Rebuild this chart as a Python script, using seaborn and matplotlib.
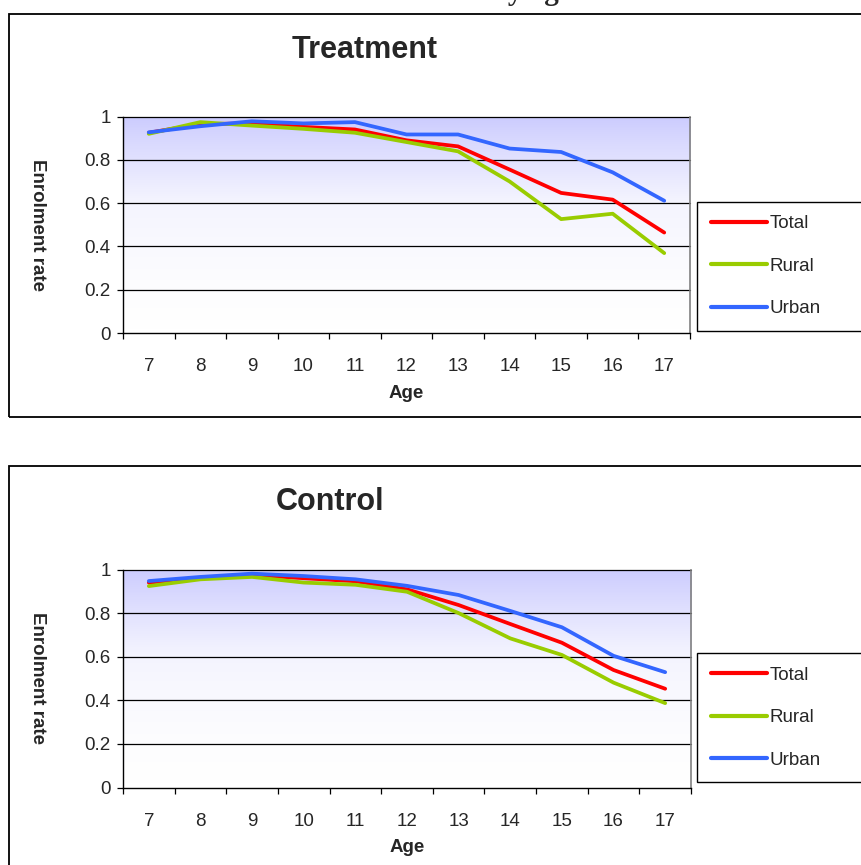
import numpy as np
import pandas as pd
import matplotlib
matplotlib.use("Agg")
import matplotlib.pyplot as plt
import seaborn as sns
from matplotlib.colors import LinearSegmentedColormap
from matplotlib.patches import Rectangle

# Figure size in pixels (saved at dpi=100)
W, H = 861, 865

# ---- data ----
ages = [7, 8, 9, 10, 11, 12, 13, 14, 15, 16, 17]
series_names = ["Total", "Rural", "Urban"]
series_colors = ["#FF0000", "#99CC00", "#3366FF"]

treat_total = [0.925, 0.965, 0.968, 0.952, 0.940, 0.890, 0.862, 0.755, 0.647, 0.616, 0.464]
treat_rural = [0.920, 0.974, 0.958, 0.943, 0.925, 0.882, 0.839, 0.700, 0.526, 0.551, 0.369]
treat_urban = [0.927, 0.955, 0.978, 0.968, 0.974, 0.917, 0.917, 0.852, 0.836, 0.742, 0.611]

ctrl_total = [0.940, 0.960, 0.975, 0.960, 0.946, 0.909, 0.837, 0.750, 0.664, 0.539, 0.453]
ctrl_rural = [0.924, 0.955, 0.966, 0.940, 0.930, 0.898, 0.800, 0.684, 0.608, 0.481, 0.387]
ctrl_urban = [0.947, 0.966, 0.981, 0.970, 0.955, 0.925, 0.883, 0.810, 0.735, 0.604, 0.529]

y_ticks = [0, 0.2, 0.4, 0.6, 0.8, 1]
y_tick_labels = ["0", "0.2", "0.4", "0.6", "0.8", "1"]

sns.set_theme(style="white")
plt.rcParams["font.family"] = ["Liberation Sans", "DejaVu Sans"]

fig = plt.figure(figsize=(W / 100, H / 100), dpi=100)
fig.patch.set_facecolor("white")


def px_rect(l, t, r, b):
    """pixel box (left, top, right, bottom) -> figure fraction rect"""
    return [l / W, 1 - b / H, (r - l) / W, (b - t) / H]


def fx(x):
    return x / W


def fy(y):
    return 1 - y / H


grad_cmap = LinearSegmentedColormap.from_list("excel_bg", ["#FFFFFF", "#F4F4FE", "#CCCCFF"])
grad = np.linspace(1, 0, 256).reshape(-1, 1) ** 1.4


def draw_panel(frame_top, frame_bottom, axes_box, title, title_xy, values,
               xlabel_y, ylabel_xy, legend_top):
    # chart-area frame (runs off the right side of the picture)
    fig.patches.append(Rectangle((fx(9), fy(frame_bottom)), (880 - 9) / W,
                                 (frame_bottom - frame_top) / H,
                                 transform=fig.transFigure, fill=False,
                                 edgecolor="black", linewidth=1.3))

    ax = fig.add_axes(px_rect(*axes_box))
    ax.imshow(grad, cmap=grad_cmap, aspect="auto", extent=[6.5, 17.5, 0, 1],
              zorder=0, vmin=0, vmax=1)

    df = pd.DataFrame({
        "Age": ages * 3,
        "rate": values[0] + values[1] + values[2],
        "series": sum([[n] * len(ages) for n in series_names], []),
    })
    sns.lineplot(data=df, x="Age", y="rate", hue="series", hue_order=series_names,
                 palette=series_colors, linewidth=2.7, ax=ax, legend=False,
                 solid_capstyle="round", zorder=3)

    for yv in y_ticks[1:]:
        ax.axhline(yv, color="black", linewidth=0.9, zorder=1, clip_on=False)

    ax.set_xlim(6.5, 17.5)
    ax.set_ylim(0, 1)
    ax.set_xlabel("")
    ax.set_ylabel("")

    # category axis: ticks between categories, labels in the middle
    ax.set_xticks(np.arange(6.5, 18.0, 1.0))
    ax.set_xticklabels([])
    ax.set_xticks(ages, minor=True)
    ax.set_xticklabels([str(a) for a in ages], minor=True, fontsize=13.5)
    ax.tick_params(axis="x", which="major", direction="out", length=4, width=0.9,
                   color="black", bottom=True)
    ax.tick_params(axis="x", which="minor", length=0, pad=18)

    ax.set_yticks(y_ticks)
    ax.set_yticklabels(y_tick_labels, fontsize=13.5)
    ax.tick_params(axis="y", direction="out", length=4, width=0.9, color="black",
                   left=True, pad=5)

    for side in ["left", "bottom"]:
        ax.spines[side].set_color("black")
        ax.spines[side].set_linewidth(1.0)
    ax.spines["right"].set_color("#808080")
    ax.spines["right"].set_linewidth(1.2)
    ax.spines["top"].set_visible(False)

    fig.text(fx(title_xy[0]), fy(title_xy[1]), title, ha="center", va="center",
             fontsize=22, fontweight="bold")
    fig.text(fx((axes_box[0] + axes_box[2]) / 2), fy(xlabel_y), "Age", ha="center",
             va="center", fontsize=13.5, fontweight="bold")
    fig.text(fx(ylabel_xy[0]), fy(ylabel_xy[1]), "Enrolment rate", ha="center",
             va="center", rotation=270, fontsize=13.5, fontweight="bold")

    leg = ax.legend(ax.get_lines()[:3], series_names, loc="upper left",
                    bbox_to_anchor=(fx(697), fy(legend_top), (880 - 697) / W, 0),
                    bbox_transform=fig.transFigure, mode="expand", fontsize=13.5,
                    frameon=True, fancybox=False, framealpha=1, edgecolor="black",
                    borderpad=0.72, labelspacing=1.36, handlelength=3.0,
                    handletextpad=0.15, borderaxespad=0)
    leg.get_frame().set_linewidth(1.0)
    for ln in leg.get_lines():
        ln.set_linewidth(3)
    return ax


draw_panel(14, 417, (123, 116.5, 690, 333), "Treatment", (365, 50),
           [treat_total, treat_rural, treat_urban], 393, (37, 225), 201.5)
draw_panel(466, 900, (123, 569.5, 691, 787.5), "Control", (330, 502),
           [ctrl_total, ctrl_rural, ctrl_urban], 848, (37, 678), 653)

# page heading above the charts, cut off by the top edge as in the source
fig.text(fx(572), fy(0.5), "Enrolment rates by age", ha="right", va="baseline",
         fontsize=21, fontweight="bold", family=["Liberation Serif", "DejaVu Serif"])

fig.savefig("out.png", dpi=100)
